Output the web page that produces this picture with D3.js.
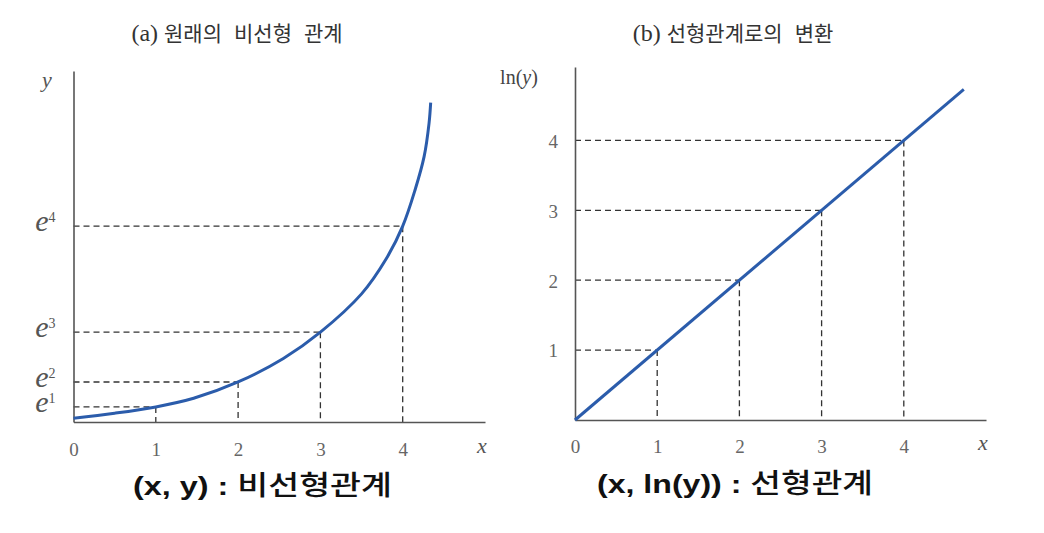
<!DOCTYPE html>
<html>
<head>
<meta charset="utf-8">
<script src="https://cdn.jsdelivr.net/npm/d3@7/dist/d3.min.js"></script>
<style>
  html, body { margin: 0; padding: 0; background: #fff; }
  svg { display: block; }
</style>
</head>
<body>
<svg id="chart" width="1044" height="533"></svg>
<script>
// ---------- data ----------
const xTicks = [0, 1, 2, 3, 4];
// Panel (a): stylised exponential curve (x, y) (y in axis units 0..100)
const curveX = [0, 0.5, 1, 1.46, 2, 2.55, 3, 3.5, 3.8, 4, 4.15, 4.26, 4.32, 4.34];
const curveY = [1.1, 2.5, 4.3, 6.75, 11.4, 18.1, 25.6, 36.5, 46.5, 55.8, 66.1, 75.6, 85.1, 91.0];
// Guide points on panel (a)
const guideAX = [1, 2, 3, 4];
const guideAY = [4.3, 11.4, 25.6, 55.8];
const eTickLabels = ["1", "2", "3", "4"];   // e^1 .. e^4
// Panel (b): straight line in (x, ln y)
const lineX = [0, 4.73];
const lineY = [0, 4.73];
const guideBX = [1, 2, 3, 4];
const guideBY = [1, 2, 3, 4];
const lnTicks = [1, 2, 3, 4];
const titleA = ["(a)", "원래의", "비선형", "관계"];
const titleB = ["(b)", "선형관계로의", "변환"];
const captionA = ["(x, y) : ", "비선형관계"];
const captionB = ["(x, ln(y)) : ", "선형관계"];

// ---------- setup ----------
const svg = d3.select("#chart");
const BLUE = "#2b5cab";
const AXIS = "#555";
const DASH = "#333";
const SERIF = "'Liberation Serif', 'DejaVu Serif', serif";
const KR = "'Noto Sans CJK KR', 'Noto Sans', sans-serif";
const SANS = "'Liberation Sans', Arial, sans-serif";

// ---------- panel (a) ----------
const xA = d3.scaleLinear().domain([0, 5]).range([73.5, 485]);
const yA = d3.scaleLinear().domain([0, 100]).range([422, 71]);

const gA = svg.append("g");

gA.selectAll("line.hA").data(guideAX).join("line")
  .attr("x1", xA(0)).attr("x2", (d) => xA(d))
  .attr("y1", (d, i) => yA(guideAY[i])).attr("y2", (d, i) => yA(guideAY[i]))
  .attr("stroke", DASH).attr("stroke-width", 1.3).attr("stroke-dasharray", "6,4");
gA.selectAll("line.vA").data(guideAX).join("line")
  .attr("x1", (d) => xA(d)).attr("x2", (d) => xA(d))
  .attr("y1", (d, i) => yA(guideAY[i])).attr("y2", yA(0))
  .attr("stroke", DASH).attr("stroke-width", 1.3).attr("stroke-dasharray", "6,4");

const axA_x = gA.append("g").attr("transform", `translate(0,${yA(0)})`)
  .call(d3.axisBottom(xA).tickValues(xTicks).tickSize(0).tickSizeOuter(0).tickPadding(21).tickFormat(d3.format("d")));
const axA_y = gA.append("g").attr("transform", `translate(${xA(0)},0)`)
  .call(d3.axisLeft(yA).tickValues(guideAY).tickSize(0).tickSizeOuter(0).tickPadding(18).tickFormat(""));
[axA_x, axA_y].forEach(ax => {
  ax.select(".domain").attr("stroke", AXIS).attr("stroke-width", 1.6);
  ax.selectAll("text").attr("font-family", SERIF).style("font-size", "19px").attr("fill", "#666");
});
axA_y.selectAll(".tick text").each(function(d, i) {
  const t = d3.select(this).text(null).attr("dy", "0.22em").attr("fill", "#555");
  t.append("tspan").style("font-style", "italic").style("font-size", "30px").text("e");
  t.append("tspan").style("font-size", "14px").attr("dy", "-9").text(eTickLabels[i]);
});

const lineGenA = d3.line().x(d => xA(d[0])).y(d => yA(d[1])).curve(d3.curveCatmullRom.alpha(0.5));
gA.append("path").datum(curveX.map((x, i) => [x, curveY[i]]))
  .attr("d", lineGenA).attr("fill", "none").attr("stroke", BLUE).attr("stroke-width", 3);

gA.append("text").attr("x", 47).attr("y", 87).attr("text-anchor", "middle")
  .attr("font-family", SERIF).attr("font-style", "italic").attr("font-size", 22).attr("fill", "#555").text("y");
gA.append("text").attr("x", 482).attr("y", 453).attr("text-anchor", "middle")
  .attr("font-family", SERIF).attr("font-style", "italic").attr("font-size", 22).attr("fill", "#555").text("x");

// ---------- panel (b) ----------
const xB = d3.scaleLinear().domain([0, 5]).range([575, 986]);
const yB = d3.scaleLinear().domain([0, 5.05]).range([420, 67]);
const gB = svg.append("g");

gB.selectAll("line.hB").data(guideBX).join("line")
  .attr("x1", xB(0)).attr("x2", (d) => xB(d))
  .attr("y1", (d, i) => yB(guideBY[i])).attr("y2", (d, i) => yB(guideBY[i]))
  .attr("stroke", DASH).attr("stroke-width", 1.3).attr("stroke-dasharray", "6,4");
gB.selectAll("line.vB").data(guideBX).join("line")
  .attr("x1", (d) => xB(d)).attr("x2", (d) => xB(d))
  .attr("y1", (d, i) => yB(guideBY[i])).attr("y2", yB(0))
  .attr("stroke", DASH).attr("stroke-width", 1.3).attr("stroke-dasharray", "6,4");

const axB_x = gB.append("g").attr("transform", `translate(0,${yB(0)})`)
  .call(d3.axisBottom(xB).tickValues(xTicks).tickSize(0).tickSizeOuter(0).tickPadding(20).tickFormat(d3.format("d")));
const axB_y = gB.append("g").attr("transform", `translate(${xB(0)},0)`)
  .call(d3.axisLeft(yB).tickValues(lnTicks).tickSize(0).tickSizeOuter(0).tickPadding(17).tickFormat(d3.format("d")));
[axB_x, axB_y].forEach(ax => {
  ax.select(".domain").attr("stroke", AXIS).attr("stroke-width", 1.6);
  ax.selectAll("text").attr("font-family", SERIF).style("font-size", "19px").attr("fill", "#666");
});
axB_y.selectAll("text").attr("dy", "0.36em");

const lineGenB = d3.line().x(d => xB(d[0])).y(d => yB(d[1]));
gB.append("path").datum(lineX.map((x, i) => [x, lineY[i]]))
  .attr("d", lineGenB).attr("fill", "none").attr("stroke", BLUE).attr("stroke-width", 3);

gB.append("text").attr("x", 519).attr("y", 84).attr("text-anchor", "middle")
  .attr("font-family", SERIF).attr("font-size", 20).attr("fill", "#444")
  .call(t => { t.append("tspan").text("ln("); t.append("tspan").attr("font-style", "italic").text("y"); t.append("tspan").text(")"); });
gB.append("text").attr("x", 983).attr("y", 450).attr("text-anchor", "middle")
  .attr("font-family", SERIF).attr("font-style", "italic").attr("font-size", 22).attr("fill", "#555").text("x");

// ---------- titles ----------
function title(x, parts) {
  const t = svg.append("text").attr("x", x).attr("y", 41).attr("text-anchor", "middle")
    .attr("fill", "#333");
  t.append("tspan").attr("font-family", SERIF).style("font-size", "24px").text(parts[0]);
  parts.slice(1).forEach((p, i) => {
    t.append("tspan").attr("font-family", KR).style("font-size", "21px")
      .attr("dx", i === 0 ? 6 : 12).text(p);
  });
}
title(237, titleA);
title(733, titleB);

// ---------- captions ----------
function caption(x, y, len, parts) {
  const t = svg.append("text").attr("x", x).attr("y", y).attr("fill", "#111")
    .attr("font-size", 26).attr("textLength", len).attr("lengthAdjust", "spacingAndGlyphs")
    .style("white-space", "pre");
  t.append("tspan").attr("font-family", SANS).attr("font-weight", "bold").text(parts[0]);
  t.append("tspan").attr("font-family", KR).attr("font-weight", 500).style("font-size", "27px").text(parts[1]);
}
caption(133, 495, 259, captionA);
caption(597, 493, 276, captionB);
</script>
</body>
</html>
